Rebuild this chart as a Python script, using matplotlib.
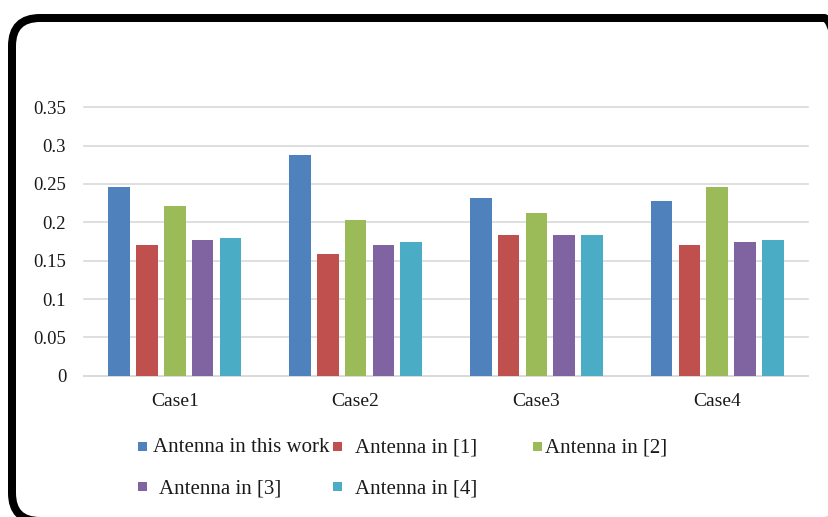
import matplotlib
matplotlib.use("Agg")
import matplotlib.pyplot as plt
from matplotlib.patches import FancyBboxPatch, Rectangle
from matplotlib.transforms import IdentityTransform
import numpy as np

# ---- data ----
cases = ["Case1", "Case2", "Case3", "Case4"]
series_names = ["Antenna in this work", "Antenna in [1]", "Antenna in [2]",
                "Antenna in [3]", "Antenna in [4]"]
this_work = [0.246, 0.288, 0.232, 0.228]
ant_1 = [0.170, 0.159, 0.183, 0.170]
ant_2 = [0.221, 0.203, 0.212, 0.246]
ant_3 = [0.177, 0.170, 0.183, 0.174]
ant_4 = [0.179, 0.174, 0.183, 0.177]
y_ticks = [0, 0.05, 0.1, 0.15, 0.2, 0.25, 0.3, 0.35]
y_tick_labels = ["0", "0.05", "0.1", "0.15", "0.2", "0.25", "0.3", "0.35"]

colors = ["#4F81BD", "#C0504D", "#9BBB59", "#8064A2", "#4BACC6"]
values = [this_work, ant_1, ant_2, ant_3, ant_4]

plt.rcParams["font.family"] = ["Liberation Serif", "DejaVu Serif"]

DPI = 100
fig = plt.figure(figsize=(8.29, 5.17), dpi=DPI)
fig.patch.set_facecolor("white")

ax = fig.add_axes([84.3 / 829, 141.3 / 517, (807.7 - 84.3) / 829, 268.4 / 517])

x = np.arange(len(cases))
slot = 0.154
width = 0.12
for j, (vals, col) in enumerate(zip(values, colors)):
    ax.bar(x + (j - 2) * slot, vals, width=width, color=col,
           edgecolor="none", zorder=3)

ax.set_xlim(-0.5, len(cases) - 0.5)
ax.set_ylim(0, 0.35)
ax.set_yticks(y_ticks)
ax.set_yticklabels(y_tick_labels)
ax.set_xticks(x)
ax.set_xticklabels(cases)
ax.tick_params(axis="y", length=0, pad=13, labelsize=13.5, labelcolor="#1a1a1a")
ax.tick_params(axis="x", length=0, pad=12.5, labelsize=14, labelcolor="#1a1a1a")

ax.grid(axis="y", color="#d9d9d9", linewidth=1.2, zorder=0)
for gl in ax.get_ygridlines():
    gl.set_clip_on(False)
for side in ["top", "right", "left"]:
    ax.spines[side].set_visible(False)
ax.spines["bottom"].set_color("#d9d9d9")
ax.spines["bottom"].set_linewidth(1.2)

# ---- legend, laid out in rows of three ----
H = 517
legend_slots = [
    (138, 452.5), (333, 452.5), (533, 452.5),
    (138, 493.3), (333, 493.3),
]
text_starts = [153, 355, 545, 159, 355]
for (mx, base), tx, name, col in zip(legend_slots, text_starts, series_names, colors):
    fig.patches.append(Rectangle((mx / 829, (H - base + 2) / H), 9 / 829, 9 / H,
                                 transform=fig.transFigure, facecolor=col,
                                 edgecolor="none"))
    fig.text(tx / 829, (H - base) / H, name, fontsize=15, color="#1a1a1a",
             ha="left", va="baseline")

# ---- rounded frame ----
frame = FancyBboxPatch((12, -4), 840, 499 + 4,
                       boxstyle="round,pad=0,rounding_size=28",
                       transform=IdentityTransform(), facecolor="none",
                       edgecolor="black", linewidth=8 * 72 / DPI)
fig.patches.append(frame)

fig.savefig("out.png", dpi=DPI, facecolor="white")
